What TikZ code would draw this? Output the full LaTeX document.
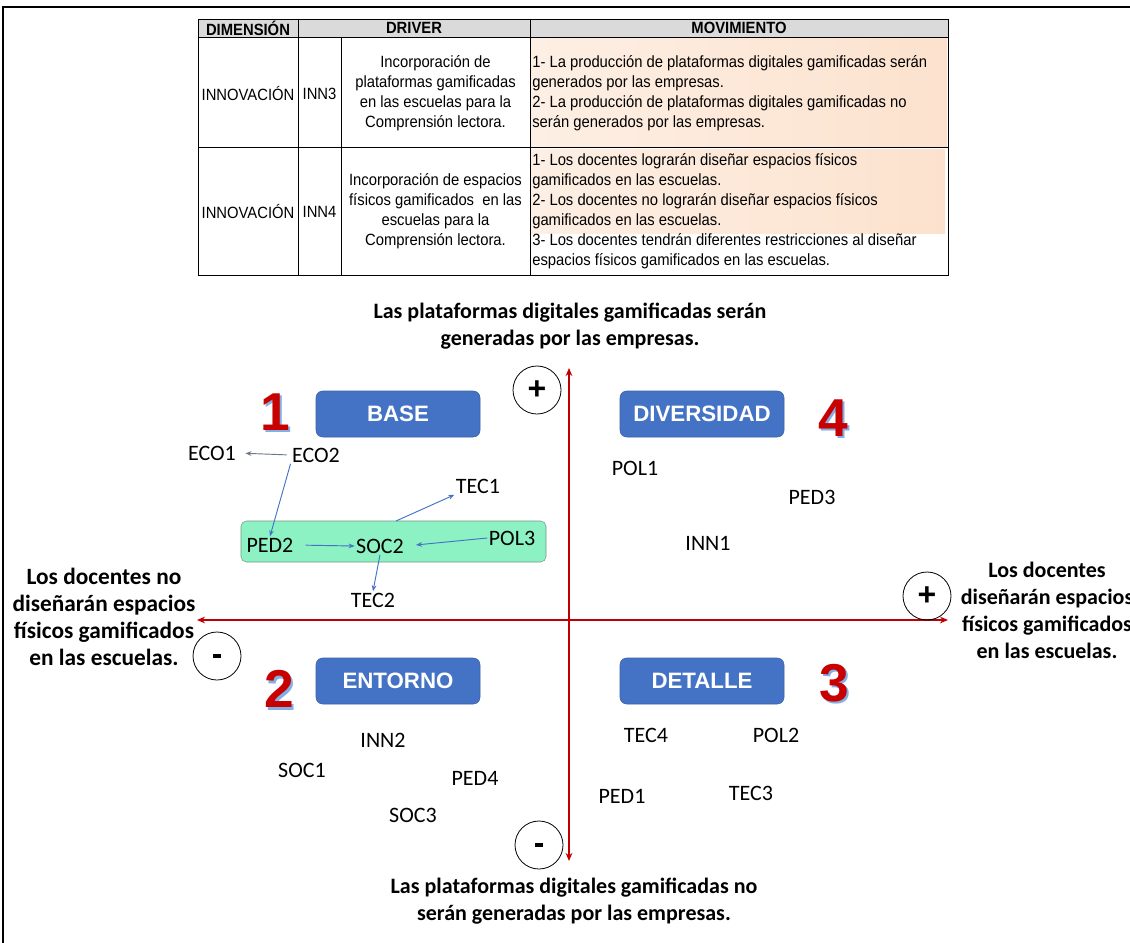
\documentclass[tikz,border=0pt]{standalone}
\usepackage{fontspec}
\setmainfont{Liberation Sans}
\newfontfamily\tblfont[FakeStretch=0.91]{Liberation Sans}
\newfontfamily\calfont{Carlito}
\usetikzlibrary{arrows.meta}

\definecolor{axisred}{RGB}{192,0,0}
\definecolor{boxblue}{RGB}{68,114,196}
\definecolor{peach}{RGB}{252,226,206}
\definecolor{hdrgray}{RGB}{218,218,218}
\definecolor{mint}{RGB}{140,242,196}
\definecolor{mintedge}{RGB}{120,150,135}
\definecolor{linkblue}{RGB}{68,114,196}
\definecolor{linkgray}{RGB}{110,120,140}
\definecolor{numred}{RGB}{200,0,0}
\definecolor{numshade}{RGB}{130,175,230}

\tikzset{
  tbl/.style={inner sep=0pt, font=\tblfont\fontsize{12.2}{15}\selectfont},
  tblhead/.style={tbl, font=\tblfont\fontsize{12.2}{15}\selectfont\bfseries},
  tblc/.style={tbl, align=center},
  tbll/.style={tbl, align=left, anchor=west},
  axlbl/.style={align=center, inner sep=0pt, font=\calfont\bfseries\fontsize{16.5}{20.25}\selectfont},
  qbox/.style={fill=boxblue, draw=boxblue!85!black, line width=0.4pt, rounded corners=5pt,
    minimum width=123pt, minimum height=34.5pt, text=white, inner sep=0pt,
    font=\fontsize{16.7}{18}\selectfont\bfseries},
  bignum/.style={inner sep=0pt, text=numred, font=\fontsize{40}{40}\selectfont\bfseries},
  bigshade/.style={inner sep=0pt, text=numshade, font=\fontsize{40}{40}\selectfont\bfseries},
  sign/.style={circle, draw=black, line width=0.6pt, minimum size=36pt, inner sep=0pt,
    font=\fontsize{24}{24}\selectfont\bfseries},
  elem/.style={inner sep=1pt, font=\calfont\fontsize{16.5}{18}\selectfont},
  grbox/.style={fill=mint, draw=mintedge, line width=0.4pt, rounded corners=4pt,
    minimum width=228.75pt, minimum height=30.75pt, inner sep=0pt},
  link/.style={draw=linkblue, line width=0.7pt, -{Stealth[length=4.5pt,width=3.5pt]}},
  axis/.style={draw=axisred, line width=1.5pt, {Stealth[length=6pt,width=5pt]}-{Stealth[length=6pt,width=5pt]}},
}
% a short thick bar used as the minus sign inside the circles
\newcommand{\cminus}{\rule{6pt}{3pt}}

\begin{document}
\begin{tikzpicture}[x=0.75pt, y=-0.75pt]
\clip (0,0) rectangle (1130,942);
\fill[white] (0,0) rectangle (1130,942);

% page frame
\draw[line width=1.9pt] (3,945) -- (3,7) -- (1135,7);

% ---------- table ----------
\fill[hdrgray] (198,19) rectangle (948,37);
\shade[left color=peach!55, right color=peach] (530,38) rectangle (947,146);
\shade[left color=peach!55, right color=peach] (530,149) rectangle (945,233);
\draw[line width=0.5pt] (198,19) rectangle (948,275);
\draw[line width=0.5pt] (198,37) -- (948,37);
\draw[line width=0.5pt] (198,147) -- (948,147);
\draw[line width=0.5pt] (298,19) -- (298,275);
\draw[line width=0.5pt] (341,37) -- (341,275);
\draw[line width=0.5pt] (530,19) -- (530,275);

\node[tblhead] (hdim) at (248,28) {DIMENSIÓN};
\node[tblhead] (hdrv) at (414,28) {DRIVER};
\node[tblhead] (hmov) at (739,28) {MOVIMIENTO};

\node[tbl] (dim1) at (248,93.5) {INNOVACIÓN};
\node[tbl] (id1) at (319.5,93.5) {INN3};
\node[tblc] (drv1) at (435.5,93.5) {Incorporación de\\plataformas gamificadas\\en las escuelas para la\\Comprensión lectora.};
\node[tbll] (mov1) at (532,93.5) {1- La producción de plataformas digitales gamificadas serán\\generados por las empresas.\\2- La producción de plataformas digitales gamificadas no\\serán generados por las empresas.};

\node[tbl] (dim2) at (248,211.5) {INNOVACIÓN};
\node[tbl] (id2) at (319.5,211.5) {INN4};
\node[tblc] (drv2) at (435.5,211.5) {Incorporación de espacios\\físicos gamificados\ \ en las\\escuelas para la\\Comprensión lectora.};
\node[tbll] (mov2) at (532,211.5) {1- Los docentes lograrán diseñar espacios físicos\\gamificados en las escuelas.\\2- Los docentes no lograrán diseñar espacios físicos\\gamificados en las escuelas.\\3- Los docentes tendrán diferentes restricciones al diseñar\\espacios físicos gamificados en las escuelas.};

% ---------- axis labels ----------
\node[axlbl] (lbltop) at (570,326) {Las plataformas digitales gamificadas serán\\generadas por las empresas.};
\node[axlbl] (lblbot) at (574,901) {Las plataformas digitales gamificadas no\\serán generadas por las empresas.};
\node[axlbl, font=\calfont\bfseries\fontsize{17.5}{20.25}\selectfont] (lblleft) at (104,616.5) {Los docentes no\\diseñarán espacios\\físicos gamificados\\en las escuelas.};
\node[axlbl] (lblright) at (1047,610.5) {Los docentes\\diseñarán espacios\\físicos gamificados\\en las escuelas.};

% ---------- axes ----------
\coordinate (vtop) at (569,368);
\coordinate (vbot) at (569,861);
\coordinate (hleft) at (197,620);
\coordinate (hright) at (948,620);
\draw[axis] (vbot) -- (vtop);
\draw[axis] (hleft) -- (hright);

\node[sign] (stop) at (537,390) {+};
\node[sign] (sright) at (927,596) {+};
\node[sign] (sleft) at (217,656) {\cminus};
\node[sign] (sbot) at (539,845) {\cminus};

% ---------- quadrant titles ----------
\node[qbox] (qbase) at (398,414) {BASE};
\node[qbox] (qdiv) at (702,414) {DIVERSIDAD};
\node[qbox] (qent) at (398,681) {ENTORNO};
\node[qbox] (qdet) at (702,681) {DETALLE};

% quadrant numbers with a light offset shadow
\node[bigshade] (n1s) at (277.5,414.5) {1};
\node[bignum] (n1) at (275,412) {1};
\node[bigshade] (n4s) at (835.5,420.5) {4};
\node[bignum] (n4) at (833,418) {4};
\node[bigshade] (n2s) at (281.5,691.5) {2};
\node[bignum] (n2) at (279,689) {2};
\node[bigshade] (n3s) at (836.5,685.5) {3};
\node[bignum] (n3) at (834,683) {3};

% ---------- quadrant 1 ----------
\node[grbox] (grp) at (393.5,541.5) {};
\node[elem] (eco1) at (212,453) {ECO1};
\node[elem] (eco2) at (316,455) {ECO2};
\node[elem] (tec1) at (478,486) {TEC1};
\node[elem] (ped2) at (270,545) {PED2};
\node[elem] (soc2) at (380,546) {SOC2};
\node[elem] (pol3) at (512,538) {POL3};
\node[elem] (tec2) at (373,600) {TEC2};
\coordinate (soc2top) at (396,521);

\draw[link, draw=linkgray, shorten <=3pt, shorten >=6pt] (eco2.west) -- (eco1.east);
\draw[link] (eco2.south west) -- (ped2.north);
\draw[link] (soc2top) -- (tec1.south west);
\draw[link, shorten <=8pt] (ped2.east) -- (soc2.west);
\draw[link, shorten >=8pt] (pol3.west) -- (soc2.east);
\draw[link] (soc2.south) -- (tec2.north);

% ---------- quadrant 4 ----------
\node[elem] (pol1) at (635,468) {POL1};
\node[elem] (ped3) at (812,497) {PED3};
\node[elem] (inn1) at (708,543) {INN1};

% ---------- quadrant 2 ----------
\node[elem] (inn2) at (383,740) {INN2};
\node[elem] (soc1) at (302,770) {SOC1};
\node[elem] (ped4) at (475,778) {PED4};
\node[elem] (soc3) at (413,815) {SOC3};

% ---------- quadrant 3 ----------
\node[elem] (tec4) at (646,735) {TEC4};
\node[elem] (pol2) at (776,735) {POL2};
\node[elem] (ped1) at (622,796) {PED1};
\node[elem] (tec3) at (751,793) {TEC3};
\end{tikzpicture}
\end{document}
